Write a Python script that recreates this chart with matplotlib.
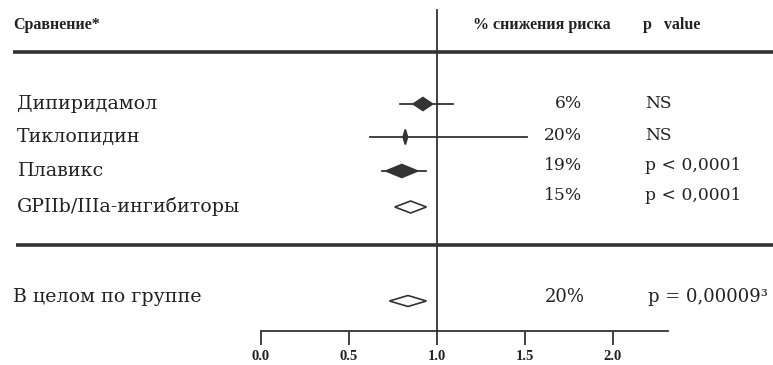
import matplotlib.pyplot as plt
from matplotlib.patches import Polygon

# Data
labels = ["Дипиридамол", "Тиклопидин", "Плавикс", "GPIIb/IIIa-ингибиторы"]
estimate = [0.92, 0.82, 0.80, 0.85]
ci_low = [0.79, 0.62, 0.69, None]
ci_high = [1.09, 1.51, 0.94, None]
diamond_w = [0.11, 0.025, 0.18, 0.18]   # widths follow study weight
filled = [True, True, True, False]
pct = ["6%", "20%", "19%", "15%"]
pvals = ["NS", "NS", "p < 0,0001", "p < 0,0001"]

total_label = "В целом по группе"
total_est = 0.835
total_half = 0.105
total_pct = "20%"
total_p = "p = 0,00009³"

ticks = [0.0, 0.5, 1.0, 1.5, 2.0]

# layout (pixel-like y, top = 0)
row_y = [104, 137, 171, 207]
row_hh = [6.5, 7.5, 6.5, 6.0]
stat_y = [104, 135, 165, 195]
total_y = 301
ink = "#333333"
txt = "#222222"
serif = ["DejaVu Serif"]


def px(x):
    # horizontal pixel -> effect units
    return (x - 261) / 176


fig = plt.figure(figsize=(7.73, 3.65), dpi=100)
ax = fig.add_axes([0, 0, 1, 1])
ax.set_xlim(px(0), px(773))
ax.set_ylim(365, 0)
for s in ["top", "left", "right"]:
    ax.spines[s].set_visible(False)
ax.set_yticks([])

# scale axis
ax.spines["bottom"].set_position(("data", 331))
ax.spines["bottom"].set_bounds(0, 2.31)
ax.spines["bottom"].set_color(ink)
ax.spines["bottom"].set_linewidth(1.3)
ax.set_xticks(ticks)
ax.set_xticklabels([f"{t:.1f}" for t in ticks], family="Liberation Serif",
                   fontsize=10.5, fontweight="bold", color=txt)
ax.tick_params(axis="x", direction="out", length=10, width=1.3, color=ink, pad=4)

# reference line at 1
ax.plot([1, 1], [10, 331], color=ink, lw=1.3)

# thick separators
ax.plot([px(13), px(773)], [52, 52], color=ink, lw=2.6, solid_capstyle="butt")
ax.plot([px(16), px(773)], [245, 245], color=ink, lw=2.6, solid_capstyle="butt")

# headers
ax.text(px(13), 25, "Сравнение*", family="Liberation Serif", fontsize=11.5,
        fontweight="bold", va="center", ha="left", color=txt)
ax.text(px(473), 25, "% снижения риска", family="Liberation Serif",
        fontsize=11.5, fontweight="bold", va="center", ha="left", color=txt)
ax.text(px(643), 25, "p   value", family="Liberation Serif", fontsize=11.5,
        fontweight="bold", va="center", ha="left", color=txt)


def diamond(x, y, hw, hh, fill):
    pts = [(x - hw, y), (x, y - hh), (x + hw, y), (x, y + hh)]
    ax.add_patch(Polygon(pts, closed=True, facecolor=ink if fill else "white",
                         edgecolor=ink, lw=1.2, zorder=3))


for i, lab in enumerate(labels):
    y = row_y[i]
    ax.text(px(17), y, lab, family=serif, fontsize=13.7, va="center",
            ha="left", color=txt)
    if ci_low[i] is not None:
        ax.plot([ci_low[i], ci_high[i]], [y, y], color=ink, lw=1.3, zorder=2)
    diamond(estimate[i], y, diamond_w[i] / 2, row_hh[i], filled[i])
    ax.text(px(582), stat_y[i], pct[i], family=serif, fontsize=12.3,
            va="center", ha="right", color=txt)
    ax.text(px(645), stat_y[i], pvals[i], family=serif, fontsize=12.3,
            va="center", ha="left", color=txt)

ax.text(px(13), 297, total_label, family=serif, fontsize=13.7, va="center",
        ha="left", color=txt)
diamond(total_est, total_y, total_half, 5.5, False)
ax.text(px(585), 297, total_pct, family=serif, fontsize=13, va="center",
        ha="right", color=txt)
ax.text(px(648), 297, total_p, family=serif, fontsize=13, va="center",
        ha="left", color=txt)

fig.savefig("out.png", dpi=100)
